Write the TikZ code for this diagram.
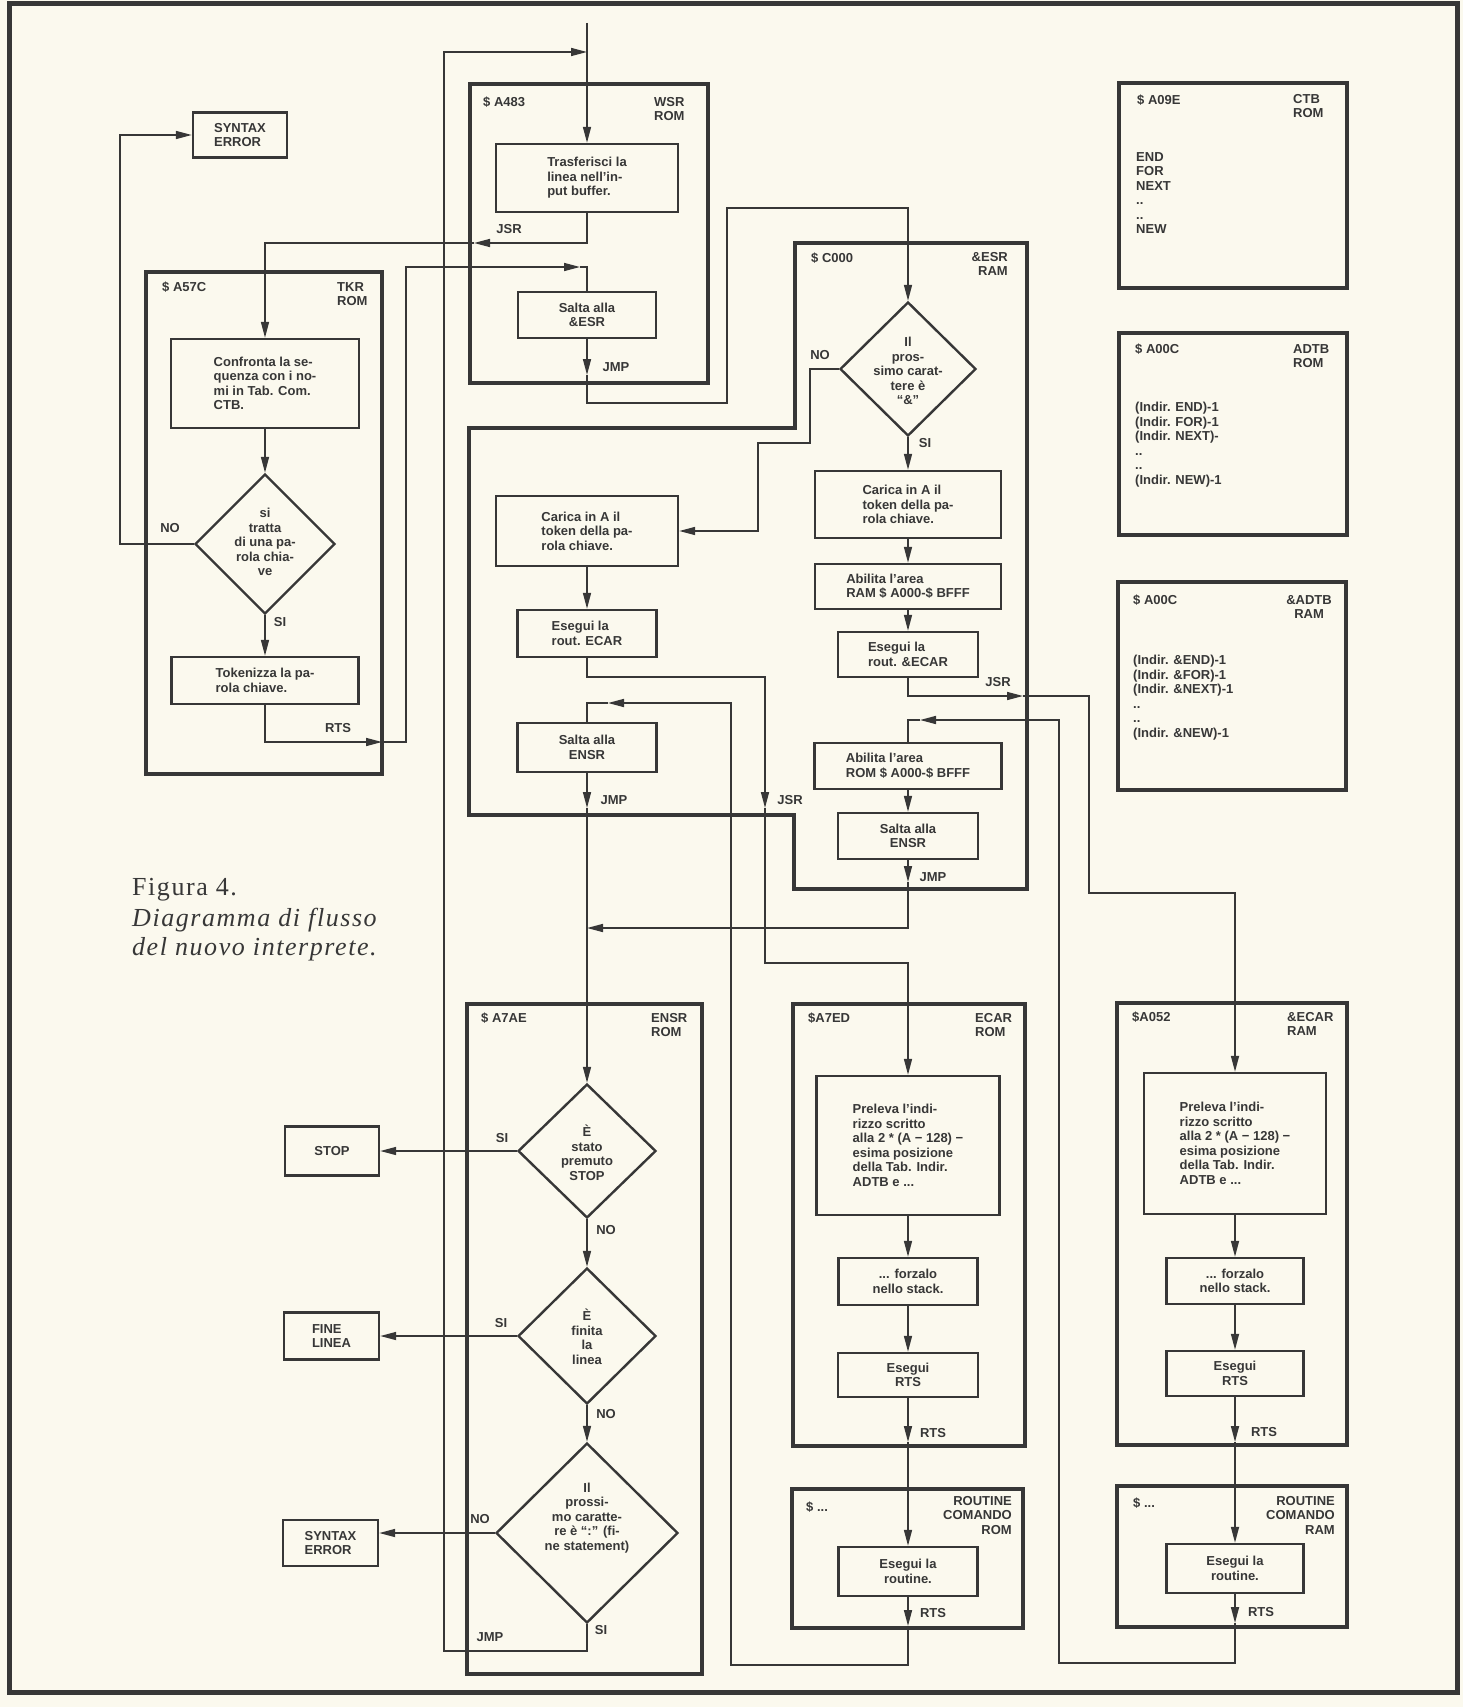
\documentclass[tikz,border=0pt]{standalone}
\usepackage{fontspec}
\setmainfont{Liberation Sans}
\newfontfamily\capfont[LetterSpace=6]{Liberation Serif}
\usetikzlibrary{arrows.meta,shapes.geometric}
\definecolor{ink}{RGB}{55,55,55}
\definecolor{paper}{RGB}{251,249,238}
\tikzset{
 txt/.style={font=\bfseries\fontsize{13}{14.5}\selectfont, text=ink},
 box/.style={txt, draw=ink, line width=2.4pt, rectangle, inner sep=0pt, align=left},
 cbox/.style={box, align=center},
 cont/.style={draw=ink, line width=3.2pt},
 dia/.style={draw=ink, line width=2.4pt, diamond, inner sep=0pt},
 dtext/.style={txt, align=center, inner sep=0pt},
 lab/.style={txt, inner sep=0pt, anchor=north west, align=left},
 rlab/.style={txt, inner sep=0pt, anchor=north east, align=right},
 conn/.style={draw=ink, line width=1.6pt},
 arr/.style={conn, -{Triangle[length=16pt,width=8pt]}},
 cl/.style={txt, inner sep=0pt}
}
\begin{document}
\begin{tikzpicture}[x=1pt,y=-1pt]
\fill[paper] (0,0) rectangle (1463,1707);
\useasboundingbox (0,0) rectangle (1463,1707);
\draw[ink, line width=5pt] (9,4) rectangle (1457,1692);

% containers
\draw[cont] (146,272) rectangle (382,774);
\draw[cont] (470,84) rectangle (708,383);
\draw[cont] (795,243) -- (1027,243) -- (1027,889) -- (794,889) -- (794,815) -- (469,815) -- (469,428) -- (795,428) -- cycle;
\draw[cont] (467,1004) rectangle (702,1674);
\draw[cont] (793,1004) rectangle (1025,1446);
\draw[cont] (792,1489) rectangle (1023,1628);
\draw[cont] (1117,1003) rectangle (1347,1445);
\draw[cont] (1117,1486) rectangle (1347,1627);
\draw[cont] (1119,83) rectangle (1347,288);
\draw[cont] (1119,333) rectangle (1347,535);
\draw[cont] (1118,582) rectangle (1346,790);

% container labels
\node[lab] (lTKRa) at (162,282) {\$ A57C};
\node[lab] (lTKRb) at (337,282) {TKR\\ROM};
\node[lab] (lWSRa) at (483,97) {\$ A483};
\node[lab] (lWSRb) at (654,97) {WSR\\ROM};
\node[lab] (lESRa) at (811,253) {\$ C000};
\node[rlab] (lESRb) at (1008,252) {\&ESR\\RAM};
\node[lab] (lCTBa) at (1137,95) {\$ A09E};
\node[lab] (lCTBb) at (1293,94) {CTB\\ROM};
\node[lab] (lADa) at (1135,344) {\$ A00C};
\node[lab] (lADb) at (1293,344) {ADTB\\ROM};
\node[lab] (lAAa) at (1133,595) {\$ A00C};
\node[txt, inner sep=0pt, anchor=north east, align=center] (lAAb) at (1332,595) {\&ADTB\\RAM};
\node[lab] (lENa) at (481,1013) {\$ A7AE};
\node[lab] (lENb) at (651,1013) {ENSR\\ROM};
\node[lab] (lECa) at (808,1013) {\$A7ED};
\node[lab] (lECb) at (975,1013) {ECAR\\ROM};
\node[lab] (lAEa) at (1132,1012) {\$A052};
\node[lab] (lAEb) at (1287,1012) {\&ECAR\\RAM};
\node[lab] (lRCa) at (806,1502) {\$ ...};
\node[rlab] (lRCb) at (1012,1496) {ROUTINE\\COMANDO\\ROM};
\node[lab] (lRAa) at (1133,1498) {\$ ...};
\node[rlab] (lRAb) at (1335,1496) {ROUTINE\\COMANDO\\RAM};

% tables
\node[lab] (tctb) at (1136,152) {END\\FOR\\NEXT\\..\\..\\NEW};
\node[lab] (tadtb) at (1135,402) {(Indir. END)-1\\(Indir. FOR)-1\\(Indir. NEXT)-\\..\\..\\(Indir. NEW)-1};
\node[lab] (taadtb) at (1133,655) {(Indir. \&END)-1\\(Indir. \&FOR)-1\\(Indir. \&NEXT)-1\\..\\..\\(Indir. \&NEW)-1};

% caption
\node[anchor=base west, inner sep=0pt, text=ink, font=\capfont\fontsize{26}{30}\selectfont] (cap1) at (132,895) {Figura 4.};
\node[anchor=base west, inner sep=0pt, text=ink, font=\capfont\itshape\fontsize{26}{30}\selectfont] (cap2) at (132,926) {Diagramma di flusso};
\node[anchor=base west, inner sep=0pt, text=ink, font=\capfont\itshape\fontsize{26}{30}\selectfont] (cap3) at (132,955) {del nuovo interprete.};

% boxes
\node[box, minimum width=94pt, minimum height=45pt] (se1) at (240,135) {SYNTAX\\ERROR};
\node[box, minimum width=188pt, minimum height=89pt] (confronta) at (265,383.5) {Confronta la se-\\quenza con i no-\\mi in Tab. Com.\\CTB.};
\node[dia, minimum width=140pt, minimum height=140pt] (dtkr) at (265,544) {};
\node[dtext] (dtkrt) at (265,542) {si\\tratta\\di una pa-\\rola chia-\\ve};
\node[box, minimum width=187pt, minimum height=47pt] (token) at (265,680.5) {Tokenizza la pa-\\rola chiave.};
\node[box, minimum width=182pt, minimum height=68pt] (trasf) at (587,178) {Trasferisci la\\linea nell’in-\\put buffer.};
\node[cbox, minimum width=138pt, minimum height=46pt] (saltaesr) at (587,315) {Salta alla\\\&ESR};
\node[box, minimum width=182pt, minimum height=70pt] (caricaL) at (587,531) {Carica in A il\\token della pa-\\rola chiave.};
\node[box, minimum width=139pt, minimum height=47pt] (esECAR) at (587,633.5) {Esegui la\\rout. ECAR};
\node[cbox, minimum width=139pt, minimum height=49pt] (saltaL) at (587,747.5) {Salta alla\\ENSR};
\node[dia, minimum width=136pt, minimum height=134pt] (d1) at (908,369) {};
\node[dtext] (d1t) at (908,371) {Il\\pros-\\simo carat-\\tere è\\“\&”};
\node[box, minimum width=186pt, minimum height=67pt] (caricaR) at (908,504.5) {Carica in A il\\token della pa-\\rola chiave.};
\node[box, minimum width=186pt, minimum height=45pt] (abRAM) at (908,586.5) {Abilita l’area\\RAM \$ A000-\$ BFFF};
\node[box, minimum width=140pt, minimum height=45pt] (esAECAR) at (908,654.5) {Esegui la\\rout. \&ECAR};
\node[box, minimum width=187pt, minimum height=46pt] (abROM) at (908,766) {Abilita l’area\\ROM \$ A000-\$ BFFF};
\node[cbox, minimum width=140pt, minimum height=46pt] (saltaR) at (908,836) {Salta alla\\ENSR};
\node[dia, minimum width=138pt, minimum height=134pt] (d2) at (587,1151) {};
\node[dtext] (d2t) at (587,1153) {È\\stato\\premuto\\STOP};
\node[dia, minimum width=138pt, minimum height=136pt] (d3) at (587,1336) {};
\node[dtext] (d3t) at (587,1337) {È\\finita\\la\\linea};
\node[dia, minimum width=182pt, minimum height=180pt] (d4) at (587,1533) {};
\node[dtext] (d4t) at (587,1518) {Il\\prossi-\\mo caratte-\\re è “:” (fi-\\ne statement)};
\node[box, minimum width=94pt, minimum height=49pt] (stop) at (332,1151) {STOP};
\node[box, minimum width=95pt, minimum height=47pt] (fine) at (331.5,1336) {FINE\\LINEA};
\node[box, minimum width=95pt, minimum height=46pt] (se2) at (330.5,1543) {SYNTAX\\ERROR};
\node[box, minimum width=183pt, minimum height=139pt] (prelE) at (908,1145.5) {Preleva l’indi-\\rizzo scritto\\alla 2 * (A − 128) −\\esima posizione\\della Tab. Indir.\\ADTB e ...};
\node[cbox, minimum width=139pt, minimum height=47pt] (forzE) at (908,1281.5) {... forzalo\\nello stack.};
\node[cbox, minimum width=140pt, minimum height=44pt] (rtsE) at (908,1375) {Esegui\\RTS};
\node[cbox, minimum width=139pt, minimum height=49pt] (routE) at (908,1571.5) {Esegui la\\routine.};
\node[box, minimum width=182pt, minimum height=141pt] (prelA) at (1235,1143.5) {Preleva l’indi-\\rizzo scritto\\alla 2 * (A − 128) −\\esima posizione\\della Tab. Indir.\\ADTB e ...};
\node[cbox, minimum width=137pt, minimum height=46pt] (forzA) at (1235,1281) {... forzalo\\nello stack.};
\node[cbox, minimum width=137pt, minimum height=45pt] (rtsA) at (1235,1373.5) {Esegui\\RTS};
\node[cbox, minimum width=137pt, minimum height=49pt] (routA) at (1235,1568.5) {Esegui la\\routine.};

% coordinates
\coordinate (in) at (587,23);
\coordinate (jl1) at (587,1651); \coordinate (jl2) at (444,1651);
\coordinate (jl3) at (444,52); \coordinate (jl4) at (587,52);
\coordinate (j1) at (587,243); \coordinate (j2) at (474,243); \coordinate (j3) at (265,243);
\coordinate (n1) at (120,544); \coordinate (n2) at (120,135);
\coordinate (r1) at (265,742); \coordinate (r2) at (382,742); \coordinate (r3) at (406,742);
\coordinate (r4) at (406,267); \coordinate (r5) at (580,267); \coordinate (r6) at (587,267);
\coordinate (m1) at (587,375); \coordinate (m2) at (587,403); \coordinate (m3) at (727,403);
\coordinate (m4) at (727,208); \coordinate (m5) at (908,208);
\coordinate (o1) at (810,369); \coordinate (o2) at (810,443); \coordinate (o3) at (758,443); \coordinate (o4) at (758,531);
\coordinate (k1) at (908,696); \coordinate (k2) at (1023,696); \coordinate (k3) at (1089,696);
\coordinate (k4) at (1089,893); \coordinate (k5) at (1235,893);
\coordinate (e1) at (587,677); \coordinate (e2) at (765,677); \coordinate (e3) at (765,808);
\coordinate (e4) at (765,963); \coordinate (e5) at (908,963);
\coordinate (f1) at (908,1626); \coordinate (f2) at (908,1665); \coordinate (f3) at (731,1665);
\coordinate (f4) at (731,703); \coordinate (f5) at (608,703); \coordinate (f6) at (587,703);
\coordinate (s1) at (587,808);
\coordinate (g1) at (908,882); \coordinate (g2) at (908,928); \coordinate (g3) at (587,928);
\coordinate (h1) at (1235,1623); \coordinate (h2) at (1235,1663); \coordinate (h3) at (1059,1663);
\coordinate (h4) at (1059,720); \coordinate (h5) at (920,720); \coordinate (h6) at (908,720);
\coordinate (t1) at (908,1442); \coordinate (u1) at (1235,1442);

% connectors
\draw[arr] (in) -- (trasf.north);
\draw[arr] (d4.south) -- (jl1) -- (jl2) -- (jl3) -- (jl4);
\draw[arr] (trasf.south) -- (j1) -- (j2);
\draw[arr] (j2) -- (j3) -- (confronta.north);
\draw[arr] (confronta.south) -- (dtkr.north);
\draw[arr] (dtkr.west) -- (n1) -- (n2) -- (se1.west);
\draw[arr] (dtkr.south) -- (token.north);
\draw[arr] (token.south) -- (r1) -- (r2);
\draw[arr] (r2) -- (r3) -- (r4) -- (r5);
\draw[conn] (r5) -- (r6) -- (saltaesr.north);
\draw[arr] (saltaesr.south) -- (m1);
\draw[arr] (m1) -- (m2) -- (m3) -- (m4) -- (m5) -- (d1.north);
\draw[arr] (d1.west) -- (o1) -- (o2) -- (o3) -- (o4) -- (caricaL.east);
\draw[arr] (d1.south) -- (caricaR.north);
\draw[arr] (caricaR.south) -- (abRAM.north);
\draw[arr] (abRAM.south) -- (esAECAR.north);
\draw[arr] (esAECAR.south) -- (k1) -- (k2);
\draw[arr] (k2) -- (k3) -- (k4) -- (k5) -- (prelA.north);
\draw[arr] (caricaL.south) -- (esECAR.north);
\draw[arr] (esECAR.south) -- (e1) -- (e2) -- (e3);
\draw[arr] (e3) -- (e4) -- (e5) -- (prelE.north);
\draw[arr] (routE.south) -- (f1);
\draw[arr] (f1) -- (f2) -- (f3) -- (f4) -- (f5);
\draw[conn] (f5) -- (f6) -- (saltaL.north);
\draw[arr] (saltaL.south) -- (s1);
\draw[arr] (s1) -- (d2.north);
\draw[arr] (saltaR.south) -- (g1);
\draw[arr] (g1) -- (g2) -- (g3);
\draw[arr] (routA.south) -- (h1);
\draw[arr] (h1) -- (h2) -- (h3) -- (h4) -- (h5);
\draw[conn] (h5) -- (h6) -- (abROM.north);
\draw[arr] (abROM.south) -- (saltaR.north);
\draw[arr] (d2.west) -- (stop.east);
\draw[arr] (d2.south) -- (d3.north);
\draw[arr] (d3.west) -- (fine.east);
\draw[arr] (d3.south) -- (d4.north);
\draw[arr] (d4.west) -- (se2.east |- d4.west);
\draw[arr] (prelE.south) -- (forzE.north);
\draw[arr] (forzE.south) -- (rtsE.north);
\draw[arr] (rtsE.south) -- (t1);
\draw[arr] (t1) -- (routE.north);
\draw[arr] (prelA.south) -- (forzA.north);
\draw[arr] (forzA.south) -- (rtsA.north);
\draw[arr] (rtsA.south) -- (u1);
\draw[arr] (u1) -- (routA.north);

% connector labels
\node[cl] (cJSR1) at (509,229) {JSR};
\node[cl] (cRTS1) at (338,728) {RTS};
\node[cl] (cJMP1) at (616,367) {JMP};
\node[cl] (cNO1) at (820,355) {NO};
\node[cl] (cSI1) at (925,443) {SI};
\node[cl] (cNO0) at (170,528) {NO};
\node[cl] (cSI0) at (280,622) {SI};
\node[cl] (cJSR2) at (790,800) {JSR};
\node[cl] (cJMP2) at (614,800) {JMP};
\node[cl] (cJSR3) at (998,682) {JSR};
\node[cl] (cJMP3) at (933,877) {JMP};
\node[cl] (cSI2) at (502,1138) {SI};
\node[cl] (cNO2) at (606,1230) {NO};
\node[cl] (cSI3) at (501,1323) {SI};
\node[cl] (cNO3) at (606,1414) {NO};
\node[cl] (cNO4) at (480,1519) {NO};
\node[cl] (cSI4) at (601,1630) {SI};
\node[cl] (cJMP4) at (490,1637) {JMP};
\node[cl] (cRTS2) at (933,1433) {RTS};
\node[cl] (cRTS3) at (933,1613) {RTS};
\node[cl] (cRTS4) at (1264,1432) {RTS};
\node[cl] (cRTS5) at (1261,1612) {RTS};
\end{tikzpicture}
\end{document}
